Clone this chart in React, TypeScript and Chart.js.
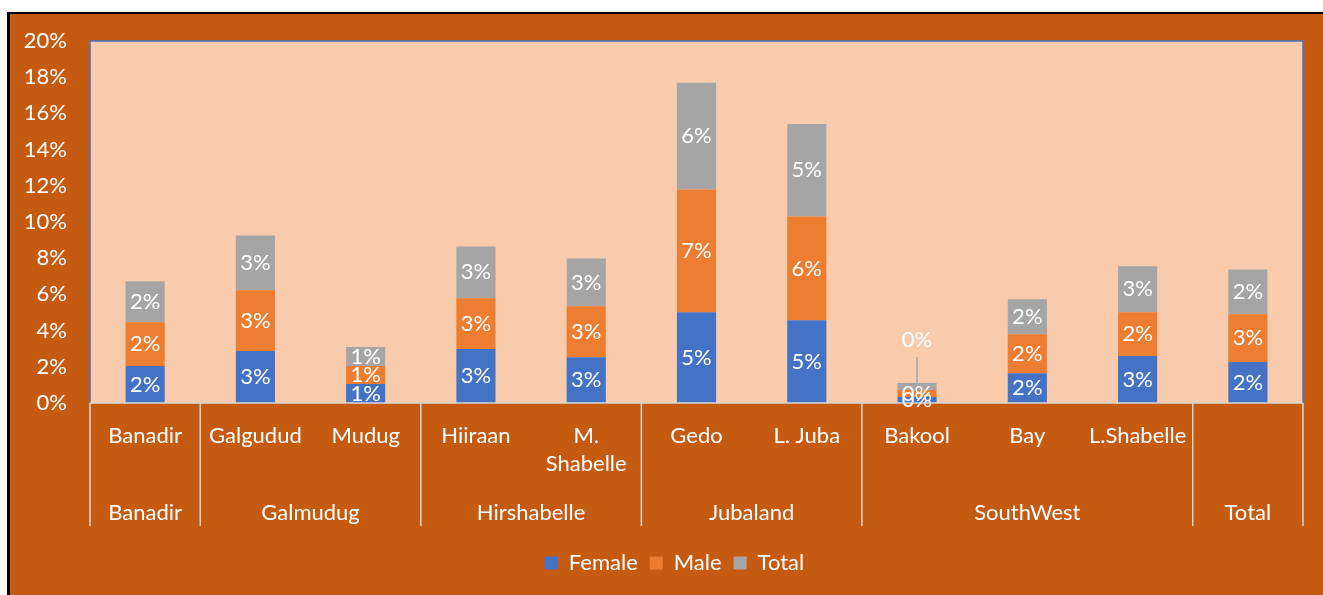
import React, { useEffect, useRef } from "react";
import { Chart, registerables } from "chart.js";
Chart.register(...registerables);

const subLabels: (string | string[])[] = [
  "Banadir", "Galgudud", "Mudug", "Hiiraan", ["M.", "Shabelle"],
  "Gedo", "L. Juba", "Bakool", "Bay", "L.Shabelle", "",
];
const groupLabels = ["Banadir", "Galmudug", "Hirshabelle", "Jubaland", "SouthWest", "Total"];
const groupSpans = [1, 2, 2, 2, 3, 1];
const female = [2.04, 2.87, 1.05, 2.98, 2.53, 5.01, 4.57, 0.33, 1.65, 2.59, 2.26];
const male = [2.42, 3.36, 0.99, 2.81, 2.81, 6.78, 5.73, 0.39, 2.15, 2.42, 2.64];
const total = [2.26, 3.03, 1.05, 2.86, 2.64, 5.9, 5.12, 0.39, 1.93, 2.54, 2.48];
const yMax = 20;
const yStep = 2;

const FONT = "Lato";
const FS = 22;
const WHITE = "#FFFFFF";

const decorPlugin = {
  id: "decor",
  afterLayout(chart: any) {
    const lg = chart.legend;
    if (lg) {
      lg.left += 18;
      lg.right += 18;
    }
  },
  beforeDraw(chart: any) {
    const { ctx, chartArea: a } = chart;
    ctx.save();
    ctx.fillStyle = "#F8CBAD";
    ctx.fillRect(a.left, a.top, a.right - a.left, a.bottom - a.top);
    ctx.restore();
  },
  afterDatasetsDraw(chart: any) {
    const { ctx } = chart;
    ctx.save();
    ctx.font = `${FS}px ${FONT}`;
    ctx.fillStyle = WHITE;
    ctx.textAlign = "center";
    ctx.textBaseline = "middle";
    const n = chart.data.datasets.length;
    chart.data.datasets.forEach((ds: any, di: number) => {
      const meta = chart.getDatasetMeta(di);
      meta.data.forEach((bar: any, i: number) => {
        const v = ds.data[i];
        const text = Math.round(v) + "%";
        const h = Math.abs(bar.base - bar.y);
        if (di === n - 1 && h < 10) {
          const top = Math.min(bar.y, bar.base);
          ctx.strokeStyle = "#A5A5A5";
          ctx.lineWidth = 1.5;
          ctx.beginPath();
          ctx.moveTo(bar.x, top);
          ctx.lineTo(bar.x, top - 26);
          ctx.stroke();
          ctx.fillText(text, bar.x, top - 43);
        } else {
          ctx.fillText(text, bar.x, (bar.y + bar.base) / 2);
        }
      });
    });
    ctx.restore();
  },
  afterDraw(chart: any) {
    const { ctx, chartArea: a } = chart;
    const xs = chart.scales.x;
    ctx.save();
    ctx.strokeStyle = "#4472C4";
    ctx.lineWidth = 1.5;
    ctx.beginPath();
    ctx.moveTo(a.left, a.bottom);
    ctx.lineTo(a.left, a.top);
    ctx.lineTo(a.right, a.top);
    ctx.lineTo(a.right, a.bottom);
    ctx.stroke();
    ctx.strokeStyle = "#D9D9D9";
    ctx.beginPath();
    ctx.moveTo(a.left, a.bottom);
    ctx.lineTo(a.right, a.bottom);
    ctx.stroke();
    ctx.font = `${FS}px ${FONT}`;
    ctx.fillStyle = WHITE;
    ctx.textAlign = "center";
    ctx.textBaseline = "middle";
    let start = 0;
    const drawSep = (idx: number) => {
      const x = xs.getPixelForValue(idx - 0.5);
      ctx.beginPath();
      ctx.moveTo(x, a.bottom);
      ctx.lineTo(x, a.bottom + 123);
      ctx.stroke();
    };
    drawSep(0);
    groupLabels.forEach((g, gi) => {
      const end = start + groupSpans[gi];
      drawSep(end);
      const x0 = xs.getPixelForValue(start - 0.5);
      const x1 = xs.getPixelForValue(end - 0.5);
      ctx.fillText(g, (x0 + x1) / 2, a.bottom + 110);
      start = end;
    });
    ctx.restore();
  },
};

export default function App() {
  const ref = useRef<HTMLCanvasElement | null>(null);
  useEffect(() => {
    if (!ref.current) return;
    const chart = new Chart(ref.current, {
      type: "bar",
      data: {
        labels: subLabels as any,
        datasets: [
          { label: "Female", data: female, backgroundColor: "#4472C4", borderWidth: 0 },
          { label: "Male", data: male, backgroundColor: "#ED7D31", borderWidth: 0 },
          { label: "Total", data: total, backgroundColor: "#A5A5A5", borderWidth: 0 },
        ],
      },
      options: {
        responsive: false,
        animation: false,
        devicePixelRatio: 1,
        datasets: { bar: { categoryPercentage: 0.5, barPercentage: 0.71 } },
        layout: { padding: { top: 27, left: 0, right: 20, bottom: 11 } },
        scales: {
          x: {
            stacked: true,
            grid: { display: false },
            border: { display: false },
            ticks: {
              color: WHITE,
              font: { family: FONT, size: FS, lineHeight: 1.27 },
              padding: 11,
              maxRotation: 0,
              autoSkip: false,
            },
            afterFit: (s: any) => { s.height = 137; },
          },
          y: {
            stacked: true,
            min: 0,
            max: yMax,
            grid: { display: false, drawTicks: false },
            border: { display: false },
            ticks: {
              stepSize: yStep,
              color: WHITE,
              font: { family: FONT, size: FS },
              padding: 23,
              callback: (v: any) => v + "%",
            },
            afterFit: (s: any) => {
              s.width = 80;
              s.paddingTop = 0;
              s.paddingBottom = 0;
            },
          },
        },
        plugins: {
          legend: {
            position: "bottom",
            labels: {
              color: WHITE,
              font: { family: FONT, size: FS },
              boxWidth: 13,
              boxHeight: 13,
              padding: 12,
            },
          },
          tooltip: { enabled: false },
        },
      },
      plugins: [decorPlugin],
    });
    return () => chart.destroy();
  }, []);
  return (
    <div
      style={{
        position: "absolute",
        left: 7,
        top: 12,
        width: 1313,
        height: 581,
        borderLeft: "3px solid #000",
        borderTop: "2px solid #000",
        background: "#C55A11",
      }}
    >
      <canvas ref={ref} width={1313} height={581} style={{ display: "block" }} />
    </div>
  );
}
